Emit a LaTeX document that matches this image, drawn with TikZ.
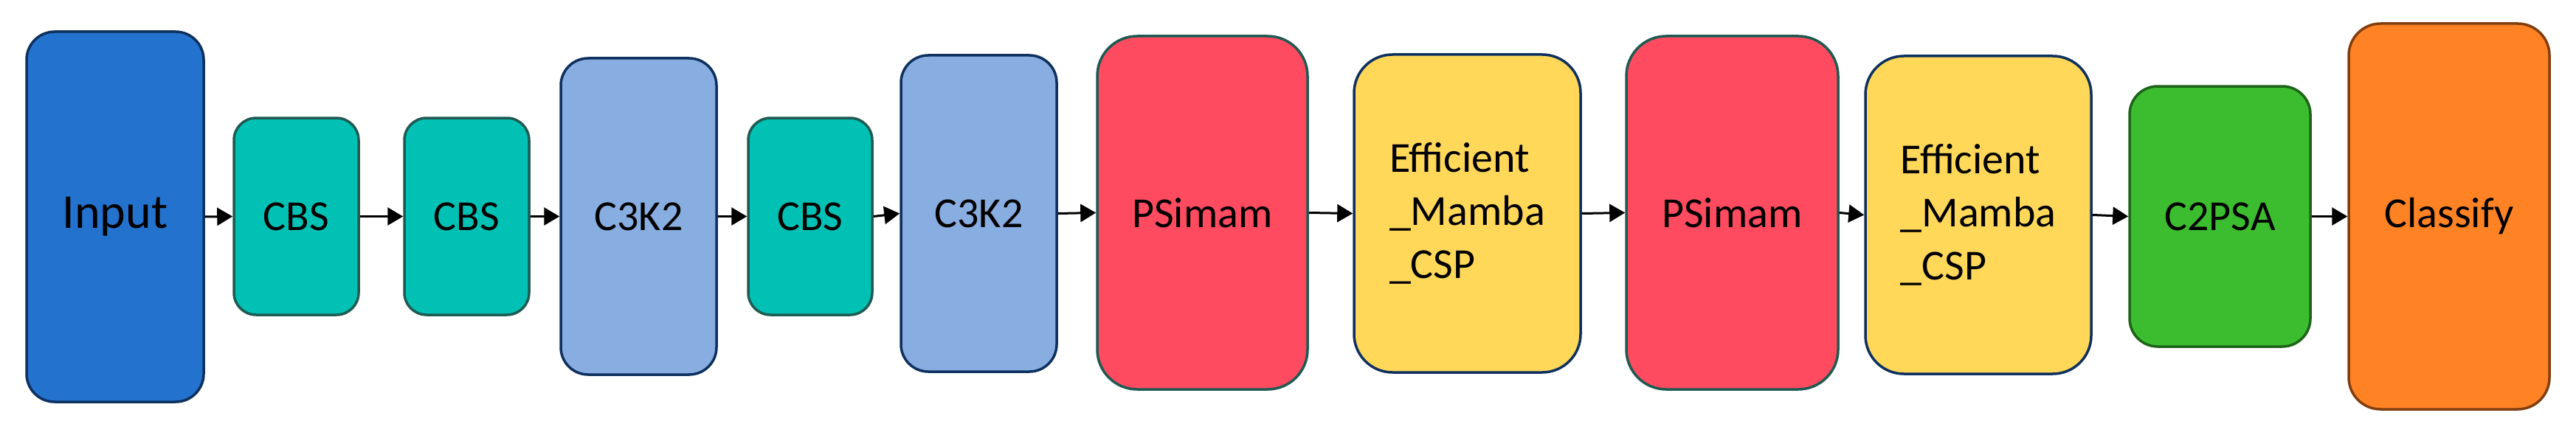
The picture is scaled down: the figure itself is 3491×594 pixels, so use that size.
\documentclass[tikz,border=0pt]{standalone}
\usepackage{fontspec}
\setmainfont{Carlito}
\usetikzlibrary{arrows.meta}
\definecolor{cInput}{RGB}{34,114,206}
\definecolor{cCBS}{RGB}{0,193,180}
\definecolor{cCK}{RGB}{136,173,224}
\definecolor{cPS}{RGB}{255,75,95}
\definecolor{cEff}{RGB}{255,216,90}
\definecolor{cC2}{RGB}{60,189,47}
\definecolor{cCls}{RGB}{255,131,37}
\definecolor{bNavy}{RGB}{14,48,94}
\definecolor{bTeal}{RGB}{30,90,82}
\definecolor{bGreen}{RGB}{28,100,24}
\definecolor{bBrown}{RGB}{130,62,15}
\tikzset{
  blk/.style={draw, line width=3.5pt, inner sep=0pt, align=center,
    font=\fontsize{58}{72}\selectfont},
  arr/.style={line width=3pt, -{Triangle[length=21pt,width=24pt]}}
}
\begin{document}
\begin{tikzpicture}[x=1pt,y=1pt]
\useasboundingbox (0,0) rectangle (3491,-594);
\node[blk, fill=cInput, draw=bNavy, minimum width=240pt, minimum height=502pt, rounded corners=38pt, font=\fontsize{66}{80}\selectfont] (in) at (156,-294) {Input};
\node[blk, fill=cCBS, draw=bTeal, minimum width=169pt, minimum height=267pt, rounded corners=30pt] (cbs1) at (401.5,-293.5) {CBS};
\node[blk, fill=cCBS, draw=bTeal, minimum width=169pt, minimum height=267pt, rounded corners=30pt] (cbs2) at (632.5,-293.5) {CBS};
\node[blk, fill=cCK, draw=bNavy, minimum width=211pt, minimum height=429pt, rounded corners=37pt] (ck1) at (865.5,-293.5) {C3K2};
\node[blk, fill=cCBS, draw=bTeal, minimum width=168pt, minimum height=267pt, rounded corners=30pt] (cbs3) at (1098,-293.5) {CBS};
\node[blk, fill=cCK, draw=bNavy, minimum width=211pt, minimum height=429pt, rounded corners=37pt] (ck2) at (1326.5,-289.5) {C3K2};
\node[blk, fill=cPS, draw=bTeal, minimum width=285pt, minimum height=479pt, rounded corners=54pt] (ps1) at (1629.5,-288.5) {PSimam};
\node[blk, fill=cEff, draw=bNavy, minimum width=307pt, minimum height=431pt, rounded corners=52pt, align=left] (ef1) at (1988.5,-289.5) {Efficient\\\_Mamba\\\_CSP};
\node[blk, fill=cPS, draw=bTeal, minimum width=287pt, minimum height=479pt, rounded corners=54pt] (ps2) at (2347.5,-288.5) {PSimam};
\node[blk, fill=cEff, draw=bNavy, minimum width=306pt, minimum height=431pt, rounded corners=52pt, align=left] (ef2) at (2681,-291.5) {Efficient\\\_Mamba\\\_CSP};
\node[blk, fill=cC2, draw=bGreen, minimum width=245pt, minimum height=353pt, rounded corners=38pt] (c2) at (3008.5,-293.5) {C2PSA};
\node[blk, fill=cCls, draw=bBrown, minimum width=272pt, minimum height=523pt, rounded corners=43pt] (cls) at (3319,-293.5) {Classify};
\draw[arr] (in.east) -- (cbs1.west);
\draw[arr] (cbs1.east) -- (cbs2.west);
\draw[arr] (cbs2.east) -- (ck1.west);
\draw[arr] (ck1.east) -- (cbs3.west);
\draw[arr] (cbs3.east) -- (ck2.west);
\draw[arr] (ck2.east) -- (ps1.west);
\draw[arr] (ps1.east) -- (ef1.west);
\draw[arr] (ef1.east) -- (ps2.west);
\draw[arr] (ps2.east) -- (ef2.west);
\draw[arr] (ef2.east) -- (c2.west);
\draw[arr] (c2.east) -- (cls.west);
\end{tikzpicture}
\end{document}
